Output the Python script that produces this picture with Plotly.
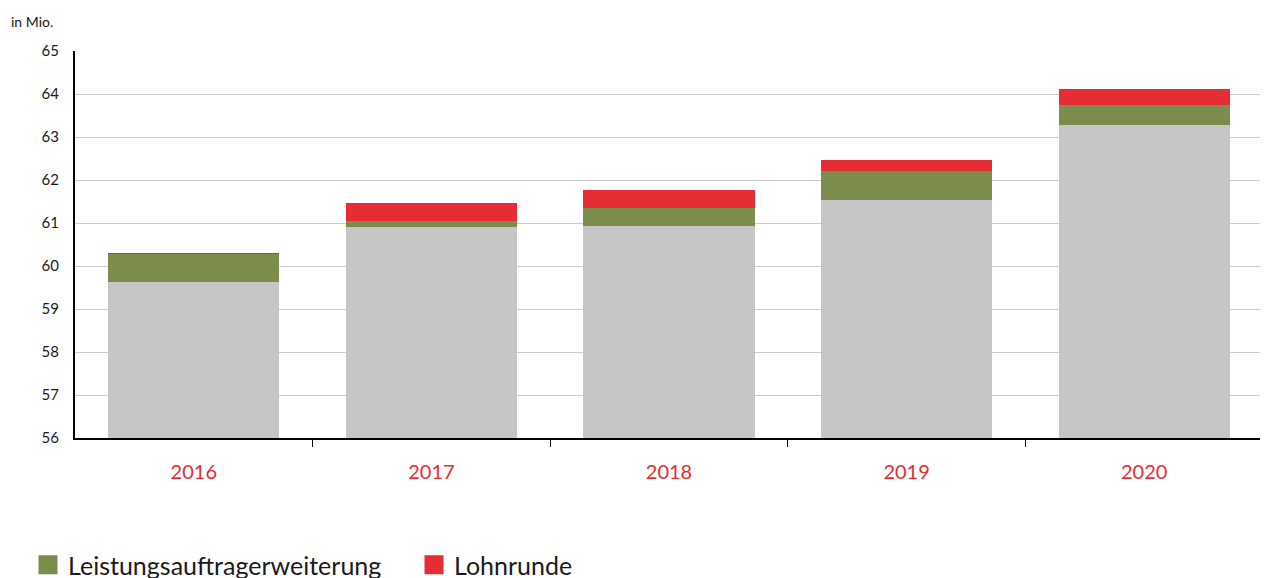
import plotly.graph_objs as go

# values in Mio.
jahre = ['2016', '2017', '2018', '2019', '2020']
basis = [59.63, 60.91, 60.93, 61.53, 63.28]
leistungsauftrag = [0.66, 0.14, 0.42, 0.68, 0.46]
lohnrunde = [0.01, 0.42, 0.42, 0.26, 0.38]

y_ticks = [56, 57, 58, 59, 60, 61, 62, 63, 64, 65]

GRAU = '#c5c6c5'
GRUEN = '#7c8c4c'
ROT = '#e62d35'
FONT = 'Lato'

# numeric positions so the separator ticks can sit between the years only
pos = list(range(len(jahre)))
trenner = [p + 0.5 for p in pos[:-1]]

fig = go.Figure()
fig.add_trace(go.Bar(x=pos, y=basis, marker=dict(color=GRAU, line=dict(width=0)),
                     showlegend=False, name='Basis'))
fig.add_trace(go.Bar(x=pos, y=leistungsauftrag, marker=dict(color=GRUEN, line=dict(width=0)),
                     showlegend=False, name='Leistungsauftragerweiterung'))
fig.add_trace(go.Bar(x=pos, y=lohnrunde, marker=dict(color=ROT, line=dict(width=0)),
                     showlegend=False, name='Lohnrunde'))

# legend entries with bigger square symbols
for name, col in [('Leistungsauftragerweiterung', GRUEN), ('Lohnrunde', ROT)]:
    fig.add_trace(go.Scatter(x=[None], y=[None], mode='markers', name=name,
                             marker=dict(symbol='square', size=16, color=col,
                                         line=dict(color=col, width=3))))

# the page body has an 8px margin, so the figure is drawn 8px in from the corner
OFF = 8
W, H = 1268 - OFF, 578 - OFF
plot_l, plot_r, plot_t, plot_b = 75 - OFF, 1263 - OFF, 51 - OFF, 438 - OFF
plot_w = plot_r - plot_l
plot_h = plot_b - plot_t

fig.update_layout(
    width=W,
    height=H,
    barmode='stack',
    bargap=0.28,
    plot_bgcolor='white',
    paper_bgcolor='white',
    font=dict(family=FONT, color='#1a1a1a'),
    margin=go.layout.Margin(
        l=plot_l,  # left margin
        r=W - plot_r,  # right margin
        b=H - plot_b,  # bottom margin
        t=plot_t,  # top margin
        autoexpand=False,
    ),
    legend=dict(
        orientation='h',
        traceorder='normal',
        xref='container',
        yref='container',
        x=(28 - OFF) / W,
        xanchor='left',
        y=(H - (565 - OFF)) / H,
        yanchor='middle',
        entrywidth=341,
        font=dict(family=FONT, size=25, color='#1a1a1a'),
        itemclick=False,
    ),
    annotations=[dict(
        text='in Mio.',
        xref='paper', yref='paper',
        x=(9 - 75) / plot_w, y=1.0 + 30 / plot_h,
        xanchor='left', yanchor='middle',
        showarrow=False,
        font=dict(family=FONT, size=14, color='#1a1a1a'),
    )],
)

fig.update_yaxes(
    range=[56, 65],
    tickvals=y_ticks,
    automargin=False,
    showgrid=True,
    gridcolor='#cccccc',
    gridwidth=1,
    showline=True,
    linecolor='black',
    linewidth=2,
    zeroline=False,
    ticks='',
    ticklabelstandoff=11,
    tickfont=dict(family=FONT, size=15, color='#1a1a1a'),
)

fig.update_xaxes(
    range=[-0.5, len(jahre) - 0.5],
    tickvals=pos,
    ticktext=jahre,
    automargin=False,
    showline=True,
    linecolor='black',
    linewidth=2,
    showgrid=False,
    zeroline=False,
    ticks='',
    minor=dict(tickvals=trenner, ticks='outside', ticklen=7,
               tickcolor='black', tickwidth=1, showgrid=False),
    ticklabelstandoff=15,
    tickfont=dict(family=FONT, size=20, color=ROT),
)

fig.write_html('out.html')
